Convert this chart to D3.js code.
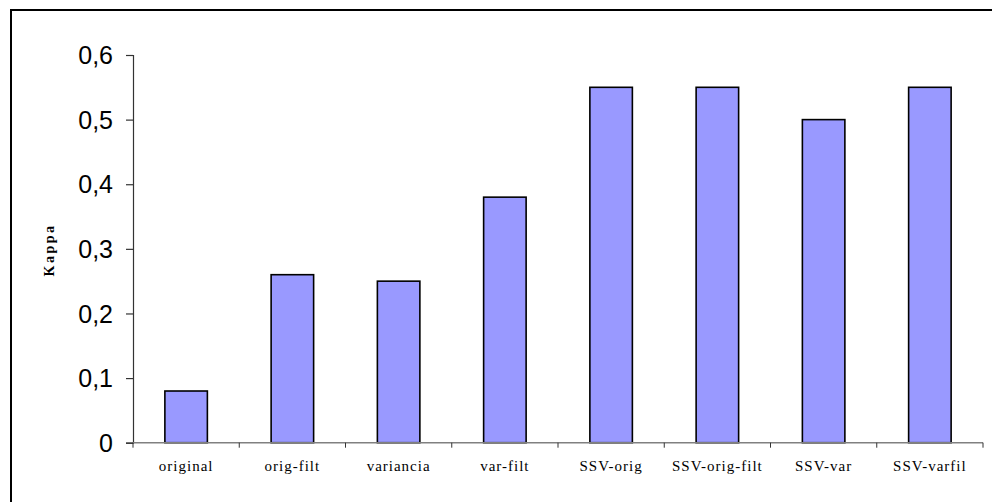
<!DOCTYPE html>
<html><head><meta charset="utf-8">
<script src="https://cdn.jsdelivr.net/npm/d3@7"></script>
<style>html,body{margin:0;padding:0;background:#fff;}svg{display:block;}</style>
</head><body>
<svg id="c" width="992" height="502"></svg>
<script>
const categories = ["original","orig-filt","variancia","var-filt","SSV-orig","SSV-orig-filt","SSV-var","SSV-varfil"];
const values = [0.08,0.26,0.25,0.38,0.55,0.55,0.50,0.55];
const yTicks = [0,0.1,0.2,0.3,0.4,0.5,0.6];
const yTickLabels = ["0","0,1","0,2","0,3","0,4","0,5","0,6"];
const yTitle = "Kappa";

const svg = d3.select("#c");
// outer frame (only left/top visible)
svg.append("rect").attr("x",11).attr("y",10).attr("width",1200).attr("height",800)
  .attr("fill","none").attr("stroke","#000").attr("stroke-width",2);

const x0=133, x1=983, yTop=55, yBot=442.7;
const x = d3.scaleBand().domain(categories).range([x0,x1]).paddingInner(0.6).paddingOuter(0.3);
const y = d3.scaleLinear().domain([0,0.6]).range([yBot,yTop]);

// bars
svg.append("g").selectAll("rect").data(values).join("rect")
  .attr("x",(d,i)=>x(categories[i]))
  .attr("y",d=>y(d))
  .attr("width",x.bandwidth())
  .attr("height",d=>y(0)-y(d))
  .attr("fill","#9999FF").attr("stroke","#000").attr("stroke-width",1.6);

// y axis
const ya = svg.append("g").attr("transform",`translate(${x0},0)`)
  .call(d3.axisLeft(y).tickValues(yTicks).tickFormat((d,i)=>yTickLabels[i]).tickSize(7).tickPadding(13));
ya.select(".domain").attr("stroke","#333").attr("stroke-width",1.2);
ya.selectAll(".tick line").attr("stroke","#333").attr("stroke-width",1.2);
ya.selectAll(".tick text").attr("font-family","'Liberation Sans', Arial, sans-serif")
  .attr("font-size",25).attr("fill","#000").attr("dy","0.35em");

// x axis line
svg.append("line").attr("x1",x0).attr("x2",x1).attr("y1",y(0)).attr("y2",y(0))
  .attr("stroke","#808080").attr("stroke-width",1.6);
// x tick marks at band boundaries
const bounds = categories.map(c=>x(c)-x.step()*x.paddingInner()/2*0 - (x.step()-x.bandwidth())/2);
bounds.push(x1);
svg.append("g").selectAll("line").data(bounds).join("line")
  .attr("x1",d=>d).attr("x2",d=>d).attr("y1",y(0)).attr("y2",y(0)+5)
  .attr("stroke","#333").attr("stroke-width",1);
// x labels
svg.append("g").selectAll("text").data(categories).join("text")
  .attr("x",d=>x(d)+x.bandwidth()/2).attr("y",471)
  .attr("text-anchor","middle")
  .attr("font-family","'Liberation Serif','Times New Roman',serif")
  .attr("font-size",15).attr("letter-spacing","1px").attr("fill","#000")
  .text(d=>d);

// y title
svg.append("text").attr("transform","translate(54,250) rotate(-90)")
  .attr("text-anchor","middle")
  .attr("font-family","'Liberation Serif','Times New Roman',serif")
  .attr("font-weight","bold").attr("font-size",14).attr("letter-spacing","2.5px")
  .text(yTitle);
</script>
</body></html>
